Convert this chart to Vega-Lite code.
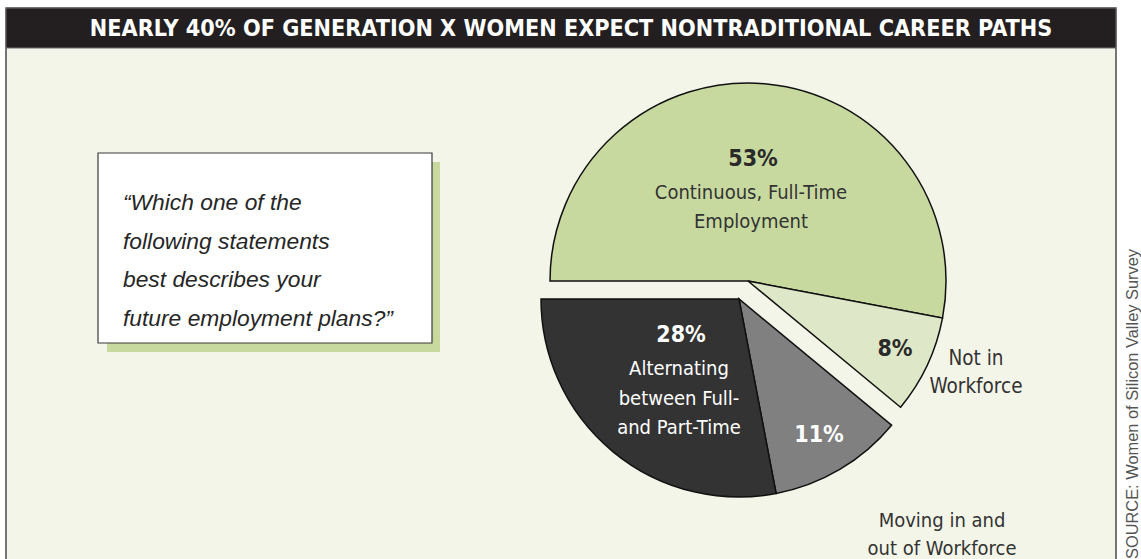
{
  "$schema": "https://vega.github.io/schema/vega-lite/v6.json",
  "width": 1141,
  "height": 559,
  "autosize": {"type": "fit", "contains": "padding"},
  "padding": 0,
  "background": "#ffffff",
  "config": {"view": {"stroke": null}},
  "datasets": {
    "careers": [
      {"category": "Continuous, Full-Time Employment", "pct": 53, "label": "Continuous, Full-Time\nEmployment"},
      {"category": "Not in Workforce", "pct": 8, "label": "Not in\nWorkforce"},
      {"category": "Moving in and out of Workforce", "pct": 11, "label": "Moving in and\nout of Workforce"},
      {"category": "Alternating between Full- and Part-Time", "pct": 28, "label": "Alternating\nbetween Full-\nand Part-Time"}
    ]
  },
  "layer": [
    {
      "data": {"values": [{}]},
      "mark": {"type": "rect", "x": 6, "x2": 1116, "y": 8, "y2": 575, "fill": "#f3f5e8", "stroke": "#4a4a4a", "strokeWidth": 1.5},
      "encoding": {}
    },
    {
      "data": {"values": [{}]},
      "mark": {"type": "rect", "x": 6, "x2": 1116, "y": 8, "y2": 48, "fill": "#231f20", "stroke": "#6e6e6e", "strokeWidth": 1},
      "encoding": {}
    },
    {
      "data": {"values": [{}]},
      "mark": {"type": "text", "x": 571, "y": 29, "text": "NEARLY 40% OF GENERATION X WOMEN EXPECT NONTRADITIONAL CAREER PATHS", "align": "center", "baseline": "middle", "font": "DejaVu Sans Condensed", "fontWeight": "bold", "fontSize": 23.2, "fill": "#ffffff"},
      "encoding": {}
    },
    {
      "data": {"values": [{}]},
      "mark": {"type": "rect", "x": 107, "x2": 440, "y": 162, "y2": 352, "fill": "#c8d9a0"},
      "encoding": {}
    },
    {
      "data": {"values": [{}]},
      "mark": {"type": "rect", "x": 98, "x2": 432, "y": 153, "y2": 343, "fill": "#ffffff", "stroke": "#3a3a3a", "strokeWidth": 1.2},
      "encoding": {}
    },
    {
      "data": {"values": [{}]},
      "mark": {"type": "text", "x": 123, "y": 210, "text": ["“Which one of the", "following statements", "best describes your", "future employment plans?”"], "align": "left", "baseline": "alphabetic", "font": "Liberation Sans", "fontStyle": "italic", "fontSize": 22.8, "lineHeight": 38.5, "fill": "#262626"},
      "encoding": {}
    },
    {
      "data": {"name": "careers"},
      "transform": [
        {"stack": "pct", "groupby": [], "as": ["start", "end"]},
        {"filter": {"field": "category", "oneOf": ["Continuous, Full-Time Employment", "Not in Workforce"]}}
      ],
      "mark": {"type": "arc", "radius": 198, "x": 748, "y": 281, "stroke": "#111111", "strokeWidth": 1.5, "strokeJoin": "miter"},
      "encoding": {
        "theta": {"field": "start", "type": "quantitative", "stack": null, "scale": {"domain": [0, 100], "range": [-1.5707963, 4.7123890]}},
        "theta2": {"field": "end"},
        "color": {"field": "category", "type": "nominal", "legend": null,
          "scale": {"domain": ["Continuous, Full-Time Employment", "Not in Workforce", "Moving in and out of Workforce", "Alternating between Full- and Part-Time"], "range": ["#c8d9a0", "#dee8c8", "#808080", "#333333"]}}
      }
    },
    {
      "data": {"name": "careers"},
      "transform": [
        {"stack": "pct", "groupby": [], "as": ["start", "end"]},
        {"filter": {"field": "category", "oneOf": ["Moving in and out of Workforce", "Alternating between Full- and Part-Time"]}}
      ],
      "mark": {"type": "arc", "radius": 198, "x": 739, "y": 299, "stroke": "#111111", "strokeWidth": 1.5, "strokeJoin": "miter"},
      "encoding": {
        "theta": {"field": "start", "type": "quantitative", "stack": null, "scale": {"domain": [0, 100], "range": [-1.5707963, 4.7123890]}},
        "theta2": {"field": "end"},
        "color": {"field": "category", "type": "nominal", "legend": null}
      }
    },
    {
      "data": {"name": "careers"},
      "transform": [{"filter": {"field": "category", "equal": "Continuous, Full-Time Employment"}}, {"calculate": "datum.pct + '%'", "as": "pctLabel"}],
      "mark": {"type": "text", "x": 753, "y": 159, "align": "center", "baseline": "middle", "font": "DejaVu Sans Condensed", "fontWeight": "bold", "fontSize": 23, "fill": "#2a2a2a"},
      "encoding": {"text": {"field": "pctLabel"}}
    },
    {
      "data": {"name": "careers"},
      "transform": [{"filter": {"field": "category", "equal": "Continuous, Full-Time Employment"}}],
      "mark": {"type": "text", "x": 751, "y": 199, "align": "center", "baseline": "alphabetic", "lineBreak": "\n", "lineHeight": 29, "font": "DejaVu Sans Condensed", "fontSize": 20, "fill": "#333333"},
      "encoding": {"text": {"field": "label"}}
    },
    {
      "data": {"name": "careers"},
      "transform": [{"filter": {"field": "category", "equal": "Not in Workforce"}}, {"calculate": "datum.pct + '%'", "as": "pctLabel"}],
      "mark": {"type": "text", "x": 895, "y": 349, "align": "center", "baseline": "middle", "font": "DejaVu Sans Condensed", "fontWeight": "bold", "fontSize": 23, "fill": "#2a2a2a"},
      "encoding": {"text": {"field": "pctLabel"}}
    },
    {
      "data": {"name": "careers"},
      "transform": [{"filter": {"field": "category", "equal": "Not in Workforce"}}],
      "mark": {"type": "text", "x": 976, "y": 365, "align": "center", "baseline": "alphabetic", "lineBreak": "\n", "lineHeight": 28, "font": "DejaVu Sans Condensed", "fontSize": 20.5, "fill": "#333333"},
      "encoding": {"text": {"field": "label"}}
    },
    {
      "data": {"name": "careers"},
      "transform": [{"filter": {"field": "category", "equal": "Moving in and out of Workforce"}}, {"calculate": "datum.pct + '%'", "as": "pctLabel"}],
      "mark": {"type": "text", "x": 819, "y": 435, "align": "center", "baseline": "middle", "font": "DejaVu Sans Condensed", "fontWeight": "bold", "fontSize": 23, "fill": "#ffffff"},
      "encoding": {"text": {"field": "pctLabel"}}
    },
    {
      "data": {"name": "careers"},
      "transform": [{"filter": {"field": "category", "equal": "Moving in and out of Workforce"}}],
      "mark": {"type": "text", "x": 942, "y": 527, "align": "center", "baseline": "alphabetic", "lineBreak": "\n", "lineHeight": 28, "font": "DejaVu Sans Condensed", "fontSize": 20, "fill": "#333333"},
      "encoding": {"text": {"field": "label"}}
    },
    {
      "data": {"name": "careers"},
      "transform": [{"filter": {"field": "category", "equal": "Alternating between Full- and Part-Time"}}, {"calculate": "datum.pct + '%'", "as": "pctLabel"}],
      "mark": {"type": "text", "x": 681, "y": 335, "align": "center", "baseline": "middle", "font": "DejaVu Sans Condensed", "fontWeight": "bold", "fontSize": 23, "fill": "#ffffff"},
      "encoding": {"text": {"field": "pctLabel"}}
    },
    {
      "data": {"name": "careers"},
      "transform": [{"filter": {"field": "category", "equal": "Alternating between Full- and Part-Time"}}],
      "mark": {"type": "text", "x": 679, "y": 375, "align": "center", "baseline": "alphabetic", "lineBreak": "\n", "lineHeight": 29.5, "font": "DejaVu Sans Condensed", "fontSize": 20, "fill": "#ffffff"},
      "encoding": {"text": {"field": "label"}}
    },
    {
      "data": {"values": [{}]},
      "mark": {"type": "text", "x": 1133, "y": 559, "angle": 270, "text": "SOURCE: Women of Silicon Valley Survey", "align": "left", "baseline": "middle", "font": "Liberation Sans", "fontSize": 16.4, "fill": "#555555"},
      "encoding": {}
    }
  ]
}
